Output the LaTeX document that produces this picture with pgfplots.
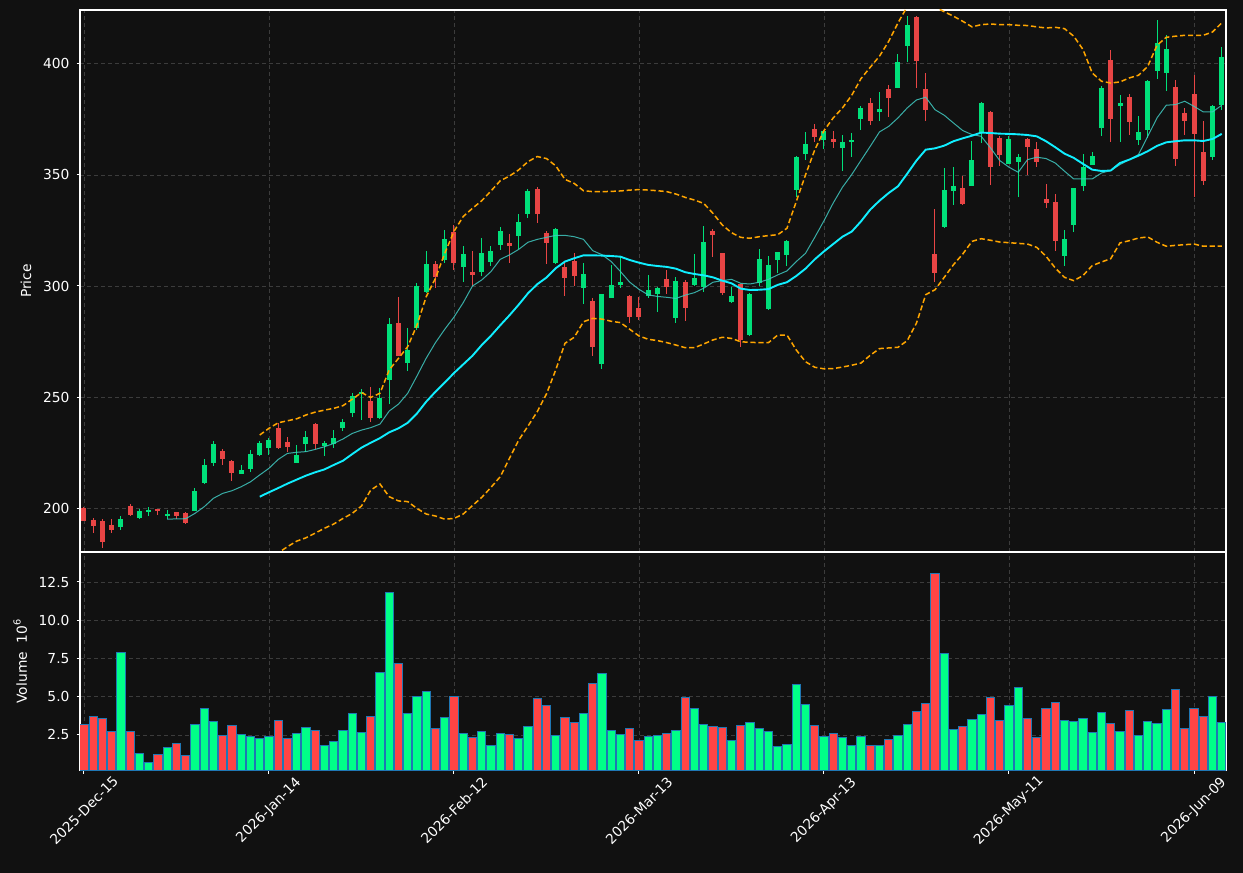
\documentclass[border=0pt]{standalone}
\usepackage{fontspec}
\setmainfont{DejaVu Sans}
\usepackage{pgfplots}
\pgfplotsset{compat=1.18}
\usepackage{pgfplotstable}

\definecolor{bg}{HTML}{111111}
\definecolor{upc}{HTML}{00E07A}
\definecolor{dnc}{HTML}{E84545}
\definecolor{vup}{HTML}{00FF88}
\definecolor{vdn}{HTML}{FF4444}
\definecolor{vedge}{HTML}{1F77B4}
\definecolor{gridc}{HTML}{3C3C3C}
\definecolor{maten}{HTML}{40C8C0}
\definecolor{matw}{HTML}{10EEFF}
\definecolor{bbc}{HTML}{FFA500}

\pgfplotstableread{
i o h l c v
4 191.4 196.3 190.0 195.0 7.90
6 195.6 199.6 195.0 198.6 1.30
7 198.4 200.3 196.4 198.8 0.71
9 196.4 199.1 195.0 197.3 1.69
12 198.8 208.9 198.5 207.8 3.20
13 211.4 221.9 211.0 219.4 4.24
14 220.4 230.0 219.1 228.8 3.39
17 215.5 219.4 215.2 217.1 2.54
18 217.7 226.1 216.4 224.3 2.41
19 224.0 230.2 223.5 229.1 2.26
20 227.2 231.5 223.9 230.5 2.41
23 220.4 228.4 220.2 224.1 2.61
24 228.8 234.7 225.4 231.8 3.00
26 227.9 230.3 223.6 229.3 1.82
27 228.8 235.1 226.9 231.5 2.09
28 236.0 240.1 234.8 238.7 2.81
29 242.9 252.0 240.8 250.4 3.92
30 251.6 253.5 239.5 251.9 2.67
32 240.5 254.2 240.2 249.5 6.60
33 257.7 285.4 246.7 282.9 11.82
35 265.5 280.9 261.9 271.2 3.92
36 281.1 301.2 280.2 300.0 5.03
37 297.4 315.9 297.0 309.9 5.35
39 311.7 325.2 310.5 321.0 3.65
41 308.4 318.0 302.0 314.4 2.61
43 306.5 321.5 304.5 314.9 2.74
44 311.0 318.0 309.0 315.8 1.82
45 318.6 326.7 316.1 324.8 2.61
47 322.7 332.3 316.5 328.8 2.28
48 332.6 343.5 330.5 342.8 3.07
51 310.2 326.0 309.8 325.5 2.48
54 299.2 310.2 291.9 305.4 3.92
56 265.0 296.6 262.8 296.4 6.53
57 294.7 309.5 294.5 300.5 2.81
58 300.5 313.2 299.2 301.8 2.54
61 295.6 304.8 294.4 298.0 2.41
62 296.5 299.7 288.1 299.1 2.48
64 285.7 303.9 283.2 302.1 2.81
66 300.6 314.3 300.0 303.5 4.24
67 299.7 327.2 297.4 319.7 3.20
70 292.9 299.7 292.5 295.5 2.15
72 277.9 296.8 277.5 296.4 3.33
73 301.2 316.5 300.0 312.2 2.94
74 289.6 313.5 289.3 309.5 2.74
75 311.7 315.5 305.7 315.3 1.76
76 314.0 320.7 309.2 320.3 1.89
77 343.2 358.6 339.9 358.0 5.81
78 359.5 369.2 356.8 364.0 4.50
80 365.6 369.7 361.5 369.6 2.41
82 362.2 367.9 351.7 364.9 2.35
83 365.0 368.8 358.0 365.8 1.82
84 375.2 381.1 370.4 380.2 2.41
86 378.5 387.2 374.2 379.7 1.82
88 389.2 404.5 389.0 400.9 2.48
89 408.3 421.5 400.8 417.4 3.20
93 326.6 353.2 326.3 343.2 7.84
94 343.0 353.5 336.3 344.9 2.87
96 345.2 365.5 344.9 356.8 3.52
97 369.4 382.9 364.4 382.4 3.85
100 355.1 367.4 354.8 366.2 4.44
101 355.9 359.6 339.9 358.1 5.62
106 313.7 325.1 309.2 321.2 3.46
107 327.6 344.3 324.2 344.1 3.39
108 345.2 359.5 342.9 353.6 3.59
109 354.7 360.2 354.4 358.6 2.67
110 371.2 389.9 367.4 389.2 3.98
112 381.2 385.9 364.7 382.4 2.74
114 365.9 376.4 363.7 369.4 2.48
115 370.4 392.6 366.7 392.2 3.39
116 396.7 420.0 393.4 409.5 3.26
117 396.0 413.2 387.7 406.8 4.18
122 358.1 381.7 356.6 380.9 5.03
123 381.7 407.5 379.4 403.2 3.33
}\up

\pgfplotstableread{
i o h l c v
0 199.9 200.3 194.0 194.3 3.20
1 194.6 195.4 188.9 191.9 3.72
2 194.1 194.9 181.8 184.8 3.59
3 192.3 194.9 188.9 190.1 2.74
5 200.9 201.8 196.4 196.8 2.74
8 199.3 199.6 196.8 198.9 1.24
10 198.2 198.4 195.0 196.4 1.96
11 197.7 198.2 193.0 193.4 1.17
15 225.7 226.6 219.2 222.2 2.48
16 221.0 221.5 212.3 215.9 3.13
21 236.0 238.1 226.8 227.0 3.46
22 229.6 231.8 225.4 227.5 2.26
25 237.8 238.2 226.4 228.8 2.81
31 248.2 254.6 238.6 240.7 3.72
34 283.3 295.2 268.3 268.6 7.18
38 309.9 311.4 298.9 304.2 2.94
40 324.3 327.6 307.0 310.5 5.03
42 306.3 315.8 300.2 305.1 2.35
46 319.4 323.3 310.2 318.2 2.54
49 343.5 344.4 328.2 332.3 4.90
50 323.7 324.8 309.8 319.5 4.44
52 308.6 310.2 295.5 303.8 3.65
53 311.3 314.7 300.2 304.7 3.33
55 293.2 294.7 268.6 272.7 5.88
59 295.5 296.0 283.5 286.2 2.94
60 289.9 295.2 284.5 286.2 2.15
63 303.0 307.2 296.2 299.7 2.61
65 301.7 302.7 284.4 290.2 4.96
68 324.8 325.8 313.2 323.1 3.07
69 314.7 315.0 295.9 296.7 3.00
71 300.8 301.0 272.7 275.7 3.13
79 370.7 373.0 365.0 367.0 3.13
81 366.1 369.6 362.0 365.0 2.61
85 382.4 384.7 372.7 374.5 1.82
87 388.7 390.4 376.0 384.7 2.22
90 421.0 421.5 389.2 401.5 4.05
91 388.7 395.8 374.2 379.4 4.57
92 314.4 334.7 301.8 305.9 13.07
95 344.1 349.4 336.3 337.1 3.07
98 378.4 378.6 345.3 353.8 4.96
99 366.7 367.4 353.9 359.2 3.46
102 366.2 366.5 349.8 362.8 3.59
103 361.7 364.7 353.5 355.9 2.35
104 339.2 346.1 335.1 337.5 4.24
105 337.8 341.6 315.6 320.4 4.63
111 401.8 406.2 364.9 375.2 3.26
113 385.1 386.6 367.9 373.9 4.11
118 389.6 392.6 353.9 357.4 5.48
119 377.9 380.2 368.2 374.5 2.94
120 386.5 395.2 339.9 368.5 4.24
121 360.4 374.5 345.3 347.4 3.72
}\down

\pgfplotstableread{
i m
9 195.0
10 195.1
11 195.2
12 197.6
13 200.6
14 204.4
15 206.6
16 207.8
17 209.6
18 211.8
19 214.9
20 217.9
21 221.9
22 224.6
23 225.1
24 225.4
25 226.4
26 227.6
27 229.1
28 231.1
29 233.6
30 235.1
31 236.2
32 237.8
33 243.7
34 246.8
35 251.7
36 259.5
37 267.5
38 274.5
39 280.5
40 286.0
41 292.5
42 300.0
43 302.7
44 306.5
45 312.0
46 314.0
47 316.5
48 319.7
49 321.0
50 321.9
51 322.8
52 322.8
53 322.2
54 321.0
55 315.9
56 314.1
57 311.0
58 306.5
59 301.7
60 298.5
61 296.0
62 295.3
63 294.9
64 294.4
65 295.9
66 297.0
67 299.0
68 301.7
69 302.4
70 303.0
71 301.2
72 300.9
73 301.7
74 303.0
75 305.0
76 306.8
77 311.0
78 314.7
79 321.9
80 329.4
81 337.4
82 344.5
83 350.2
84 356.6
85 362.9
86 369.4
87 371.9
88 375.7
89 380.2
90 383.8
91 385.0
92 379.4
93 376.9
94 373.4
95 370.0
96 368.2
97 367.4
98 362.2
99 356.5
100 353.5
101 351.2
102 356.9
103 358.0
104 357.4
105 355.4
106 351.7
107 348.2
108 348.2
109 348.2
110 350.9
111 352.0
112 354.7
113 356.9
114 359.2
115 367.4
116 375.7
117 381.4
118 381.7
119 383.2
120 380.9
121 378.4
122 378.4
123 381.4
}\smaten

\pgfplotstableread{
i m u d
19 205.1 232.9 177.3
20 207.1 235.9 178.3
21 209.0 238.4 179.8
22 211.0 239.3 182.6
23 212.8 240.2 185.1
24 214.6 241.9 186.6
25 216.1 243.2 188.7
26 217.4 244.1 190.9
27 219.4 244.9 192.8
28 221.3 246.1 195.3
29 224.3 249.0 197.6
30 227.2 252.0 200.9
31 229.4 249.8 208.1
32 231.5 251.7 210.8
33 234.1 262.2 205.1
34 235.9 267.4 203.2
35 238.4 272.7 202.9
36 242.6 282.4 199.8
37 247.9 295.2 197.3
38 252.4 303.5 196.4
39 256.5 314.7 195.0
40 260.8 324.6 195.3
41 264.7 331.3 197.3
42 268.6 335.0 201.1
43 273.4 338.4 204.8
44 277.6 342.8 209.3
45 282.3 347.4 214.1
46 286.8 349.5 222.4
47 291.6 352.3 230.6
48 296.7 356.0 236.9
49 300.8 358.3 243.4
50 303.8 357.4 251.4
51 308.0 354.1 262.2
52 311.0 348.0 274.2
53 312.5 346.2 276.9
54 313.8 342.9 283.9
55 313.8 342.5 285.4
56 313.7 342.5 285.1
57 313.5 342.6 284.1
58 313.2 342.8 283.5
59 311.7 343.2 280.5
60 310.5 343.4 277.5
61 309.5 343.2 276.0
62 309.0 342.9 275.4
63 308.6 342.5 274.5
64 307.8 341.4 273.4
65 306.2 339.9 272.2
66 305.4 338.7 272.2
67 304.8 337.2 273.9
68 303.9 332.7 275.7
69 302.4 327.5 276.9
70 301.2 324.0 276.4
71 298.8 321.9 274.9
72 298.2 321.5 274.6
73 298.3 322.2 274.5
74 298.6 322.7 274.5
75 300.5 323.1 277.9
76 301.7 326.0 277.9
77 304.5 338.0 271.2
78 307.8 350.0 265.9
79 312.0 361.3 263.4
80 315.6 370.0 262.7
81 318.9 375.7 262.8
82 322.2 380.2 263.5
83 324.5 385.9 264.3
84 329.1 393.4 265.3
85 334.4 398.5 268.8
86 338.4 403.5 271.8
87 341.9 410.2 272.1
88 344.9 418.5 272.4
89 350.6 425.8 275.4
90 356.5 429.7 283.3
91 361.4 426.7 296.1
92 362.0 425.7 298.3
93 363.2 423.5 303.9
94 365.2 421.5 309.6
95 366.5 419.2 314.4
96 367.7 416.7 320.1
97 369.1 417.7 321.3
98 368.9 418.0 320.6
99 368.6 417.7 319.8
100 368.5 417.7 319.5
101 368.3 417.4 319.2
102 368.0 417.3 318.9
103 367.4 416.7 317.4
104 365.2 416.2 313.4
105 362.5 416.5 308.1
106 359.6 415.9 303.9
107 357.7 412.5 302.4
108 355.0 406.5 304.7
109 352.4 395.9 309.2
110 351.8 392.2 310.8
111 352.0 391.4 312.3
112 355.4 391.9 319.4
113 356.9 393.7 320.4
114 358.7 394.9 321.6
115 360.7 398.9 322.1
116 363.1 408.4 319.7
117 364.7 412.0 317.9
118 365.2 412.5 318.3
119 365.6 412.9 318.6
120 365.6 412.9 318.9
121 365.3 412.9 317.9
122 366.2 414.4 318.0
123 368.5 418.5 318.0
}\smatw

\pgfplotsset{
  darkax/.style={
    scale only axis,
    width=573pt,
    xmin=-0.43, xmax=123.46,
    axis background/.style={fill=bg},
    axis line style={white, line width=0.55pt},
    tick style={white, line width=0.5pt},
    major tick length=1.75pt,
    tick align=outside,
    tick pos=left,
    grid=major,
    grid style={gridc, line width=0.45pt, dash pattern=on 2.2pt off 1.3pt},
    tick label style={font=\fontsize{6.9}{8}\selectfont, color=white},
    label style={font=\fontsize{6.9}{8}\selectfont, color=white},
    /pgf/number format/assume math mode=true,
    xtick={0,20,40,60,80,100,120},
  },
  wick/.style={draw=none, mark=none, forget plot,
    error bars/.cd, y dir=both, y explicit, error mark=none,
    error bar style={draw=#1, line width=0.5pt}},
  body/.style={draw=none, mark=none, forget plot,
    error bars/.cd, y dir=both, y explicit, error mark=none,
    error bar style={draw=#1, line width=2.5pt}},
}

\begin{document}
\begin{tikzpicture}
\path[use as bounding box] (0pt,0pt) rectangle (621.5pt,436.5pt);
\fill[bg] (0pt,0pt) rectangle (621.5pt,436.5pt);

\begin{axis}[darkax,
  at={(40pt,160.5pt)}, anchor=south west,
  height=271pt,
  ymin=180.2, ymax=424.3,
  ytick={200,250,300,350,400},
  xticklabels={},
  x tick style={draw=none},
  ylabel={Price},
  ylabel style={yshift=-1pt},
]
% wicks
\addplot[wick=upc]
  table[x=i, y expr={(\thisrow{h}+\thisrow{l})/2}, y error expr={(\thisrow{h}-\thisrow{l})/2}] {\up};
\addplot[wick=dnc]
  table[x=i, y expr={(\thisrow{h}+\thisrow{l})/2}, y error expr={(\thisrow{h}-\thisrow{l})/2}] {\down};
% bodies
\addplot[body=upc]
  table[x=i, y expr={(\thisrow{o}+\thisrow{c})/2}, y error expr={max(abs(\thisrow{c}-\thisrow{o})/2,0.35)}] {\up};
\addplot[body=dnc]
  table[x=i, y expr={(\thisrow{o}+\thisrow{c})/2}, y error expr={max(abs(\thisrow{c}-\thisrow{o})/2,0.35)}] {\down};
% lines
\addplot[maten, line width=0.5pt, opacity=0.85] table[x=i, y=m] {\smaten};
\addplot[matw, line width=0.95pt] table[x=i, y=m] {\smatw};
\addplot[bbc, line width=0.75pt, dash pattern=on 2.6pt off 1.4pt] table[x=i, y=u] {\smatw};
\addplot[bbc, line width=0.75pt, dash pattern=on 2.6pt off 1.4pt] table[x=i, y=d] {\smatw};
\end{axis}

\begin{axis}[darkax,
  at={(40pt,51.5pt)}, anchor=south west,
  height=109pt,
  ymin=0.21, ymax=14.46,
  ytick={2.5,5,7.5,10,12.5},
  yticklabel style={/pgf/number format/.cd, fixed, fixed zerofill, precision=1},
  xticklabels={2025-Dec-15,2026-Jan-14,2026-Feb-12,2026-Mar-13,2026-Apr-13,2026-May-11,2026-Jun-09},
  xticklabel style={rotate=45, anchor=center, inner sep=0pt},
  xticklabel shift=18.5pt,
  ylabel={Volume\ \ 10\textsuperscript{6}},
  ylabel style={yshift=-1pt},
  ybar, bar width=4.15pt, bar shift=0pt,
]
\addplot[fill=vup, draw=vedge, line width=0.5pt] table[x=i, y=v] {\up};
\addplot[fill=vdn, draw=vedge, line width=0.5pt] table[x=i, y=v] {\down};
\end{axis}
\end{tikzpicture}
\end{document}
